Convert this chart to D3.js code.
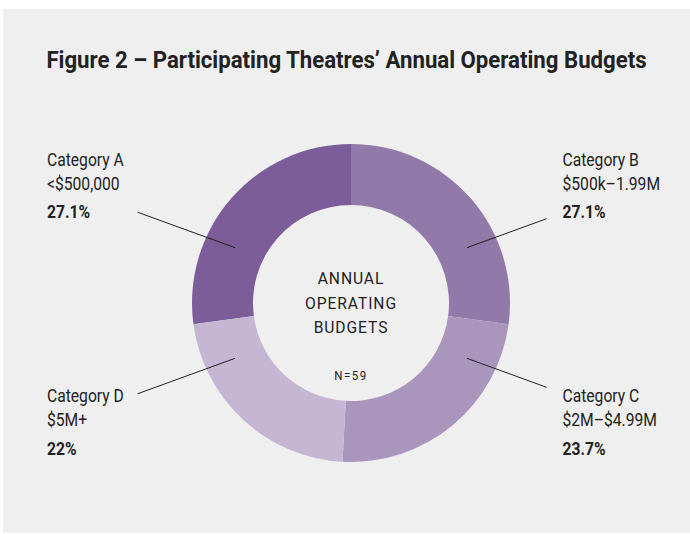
<!DOCTYPE html>
<html>
<head>
<meta charset="utf-8">
<script src="https://cdn.jsdelivr.net/npm/d3@7"></script>
<style>
  html, body { margin: 0; padding: 0; background: #ffffff; }
  svg { display: block; }
  text { font-family: Roboto, "Noto Sans", sans-serif; fill: #222222; }
</style>
</head>
<body>
<div id="chart"></div>
<script>
// Budget categories, their ranges and share of the 59 theatres (%)
const categories = ["Category A", "Category B", "Category C", "Category D"];
const ranges = ["<$500,000", "$500k\u20131.99M", "$2M\u2013$4.99M", "$5M+"];
const shares = [27.1, 27.1, 23.7, 22];
const shareLabels = ["27.1%", "27.1%", "23.7%", "22%"];
const colors = ["#7c5d99", "#9179a9", "#aa95bc", "#c5b6d3"];
const centerLines = ["ANNUAL", "OPERATING", "BUDGETS"];
const sampleNote = "N=59";
const titleText = "Figure 2 \u2013 Participating Theatres\u2019 Annual Operating Budgets";

const W = 690, H = 534;
const cx = 351, cy = 303;
const outerR = 159, innerR = 98;
const condense = 0.87;

const svg = d3.select("#chart").append("svg")
  .attr("width", W).attr("height", H);

// grey panel
svg.append("rect")
  .attr("x", 3).attr("y", 9)
  .attr("width", W - 3).attr("height", 524)
  .attr("fill", "#efefef");

// title
svg.append("g")
  .attr("transform", "translate(346.5,68) scale(0.965,1)")
  .append("text")
  .attr("text-anchor", "middle")
  .attr("font-size", 23)
  .attr("font-weight", 700)
  .text(titleText);

// donut: Category A ends at 12 o'clock, the rest follow clockwise
const total = d3.sum(shares);
const start = -2 * Math.PI * shares[0] / total;
const pie = d3.pie().sort(null).value(d => d)
  .startAngle(start).endAngle(start + 2 * Math.PI);
const arcs = pie(shares);
const arc = d3.arc().innerRadius(innerR).outerRadius(outerR);

const donut = svg.append("g").attr("transform", `translate(${cx},${cy})`);
donut.selectAll("path")
  .data(arcs)
  .join("path")
  .attr("d", arc)
  .attr("fill", (d, i) => colors[i]);

// centre caption
const centre = svg.append("g").attr("transform", `translate(${cx},0) scale(0.92,1)`);
centre.selectAll("text.cap")
  .data(centerLines)
  .join("text")
  .attr("class", "cap")
  .attr("text-anchor", "middle")
  .attr("y", (d, i) => 284.5 + i * 24.2)
  .attr("font-size", 17)
  .attr("letter-spacing", 1)
  .text(d => d);
centre.append("text")
  .attr("text-anchor", "middle")
  .attr("y", 380)
  .attr("font-size", 12.5)
  .attr("letter-spacing", 1.6)
  .text(sampleNote);

// label blocks: side (left/right) and vertical band (top/bottom)
const layout = [
  { x: 47,    top: 165.7, side: -1, vert: -1 },  // A
  { x: 562.5, top: 165.7, side: 1,  vert: -1 },  // B
  { x: 562.5, top: 402.3, side: 1,  vert: 1 },   // C
  { x: 47,    top: 402.3, side: -1, vert: 1 }    // D
];

const labels = svg.selectAll("g.label")
  .data(categories)
  .join("g")
  .attr("class", "label")
  .attr("transform", (d, i) => `translate(${layout[i].x},${layout[i].top}) scale(${condense},1)`);

labels.append("text").attr("font-size", 18).text(d => d);
labels.append("text").attr("font-size", 18).attr("y", 24)
  .text((d, i) => ranges[i]);
labels.append("text").attr("font-size", 18).attr("font-weight", 700).attr("y", 52.5)
  .text((d, i) => shareLabels[i]);

// leader lines from mid-ring out toward each label
const midR = (innerR + outerR) / 2;
const leaderOff = 64.5 * Math.PI / 180;   // angle from the vertical axis
const slope = Math.tan(20 * Math.PI / 180);
svg.selectAll("line.leader")
  .data(layout)
  .join("line")
  .attr("class", "leader")
  .each(function (d) {
    const ang = d.vert < 0 ? leaderOff : Math.PI - leaderOff;
    const x1 = cx + d.side * midR * Math.sin(ang);
    const y1 = cy - midR * Math.cos(ang);
    const x2 = d.side < 0 ? 137.7 : 546.7;
    const y2 = y1 + d.vert * Math.abs(x2 - x1) * slope;
    d3.select(this)
      .attr("x1", x1).attr("y1", y1)
      .attr("x2", x2).attr("y2", y2);
  })
  .attr("stroke", "#222222")
  .attr("stroke-width", 1);
</script>
</body>
</html>
